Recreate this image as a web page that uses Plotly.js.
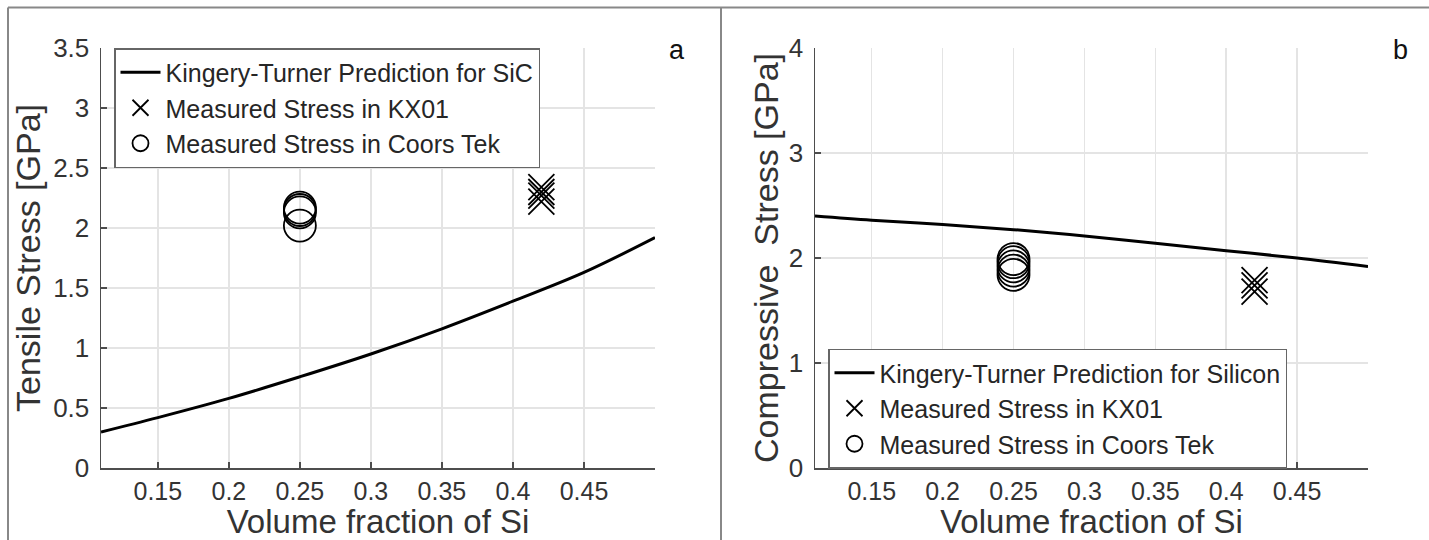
<!DOCTYPE html>
<html>
<head>
<meta charset="utf-8">
<script src="https://cdn.plot.ly/plotly-3.0.1.min.js"></script>
<style>
  html, body { margin: 0; padding: 0; background: #ffffff; }
  #chart { width: 1429px; height: 540px; }
</style>
</head>
<body>
<div id="chart"></div>
<script>
// ---- data ----
const volumeFraction = [0.11, 0.15, 0.2, 0.25, 0.3, 0.35, 0.4, 0.45, 0.5];
const sicPrediction = [0.30, 0.42, 0.58, 0.76, 0.95, 1.16, 1.39, 1.63, 1.92];
const siliconPrediction = [2.40, 2.36, 2.32, 2.27, 2.21, 2.14, 2.07, 2.00, 1.92];

const coorsTekFraction = 0.25;
const kx01Fraction = 0.42;
const tensileCoorsTek = [2.02, 2.13, 2.15, 2.17];
const tensileKX01 = [2.22, 2.27, 2.30, 2.34];
const compressiveCoorsTek = [1.84, 1.88, 1.92, 1.96, 1.99];
const compressiveKX01 = [1.68, 1.74, 1.79];

const xTickVals = [0.15, 0.2, 0.25, 0.3, 0.35, 0.4, 0.45];
const xTickText = ['0.15', '0.2', '0.25', '0.3', '0.35', '0.4', '0.45'];
const tensileTicks = [0, 0.5, 1, 1.5, 2, 2.5, 3, 3.5];
const tensileTickText = ['0', '0.5', '1', '1.5', '2', '2.5', '3', '3.5'];
const compressiveTicks = [0, 1, 2, 3, 4];
const compressiveTickText = ['0', '1', '2', '3', '4'];

const legendA = ['Kingery-Turner Prediction for SiC', 'Measured Stress in KX01', 'Measured Stress in Coors Tek'];
const legendB = ['Kingery-Turner Prediction for Silicon', 'Measured Stress in KX01', 'Measured Stress in Coors Tek'];

// ---- styling ----
const FONT = 'Liberation Sans, Arial, Helvetica, sans-serif';
const INK = '#262626';
const AXIS = '#4d4d4d';
const GRID = '#e4e4e4';
const LABEL = '#333333';

function rep(v, n) { return new Array(n).fill(v); }

const traces = [
  { x: volumeFraction, y: sicPrediction, type: 'scatter', mode: 'lines', name: legendA[0],
    line: { color: '#000', width: 3, shape: 'spline' }, xaxis: 'x', yaxis: 'y', legend: 'legend' },
  { x: rep(kx01Fraction, tensileKX01.length), y: tensileKX01, type: 'scatter', mode: 'markers', name: legendA[1],
    marker: { symbol: 'x-thin-open', size: 26, color: '#000', line: { color: '#000', width: 1.8 } },
    xaxis: 'x', yaxis: 'y', legend: 'legend' },
  { x: rep(coorsTekFraction, tensileCoorsTek.length), y: tensileCoorsTek, type: 'scatter', mode: 'markers', name: legendA[2],
    marker: { symbol: 'circle-open', size: 32, color: '#000', line: { color: '#000', width: 1.8 } },
    xaxis: 'x', yaxis: 'y', legend: 'legend' },

  { x: volumeFraction, y: siliconPrediction, type: 'scatter', mode: 'lines', name: legendB[0],
    line: { color: '#000', width: 3, shape: 'spline' }, xaxis: 'x2', yaxis: 'y2', legend: 'legend2' },
  { x: rep(kx01Fraction, compressiveKX01.length), y: compressiveKX01, type: 'scatter', mode: 'markers', name: legendB[1],
    marker: { symbol: 'x-thin-open', size: 26, color: '#000', line: { color: '#000', width: 1.8 } },
    xaxis: 'x2', yaxis: 'y2', legend: 'legend2' },
  { x: rep(coorsTekFraction, compressiveCoorsTek.length), y: compressiveCoorsTek, type: 'scatter', mode: 'markers', name: legendB[2],
    marker: { symbol: 'circle-open', size: 32, color: '#000', line: { color: '#000', width: 1.8 } },
    xaxis: 'x2', yaxis: 'y2', legend: 'legend2' }
];

const ML = 101, MR = 61, MT = 48, MB = 72;
const W = 1429, H = 540;
const PW = W - ML - MR, PH = H - MT - MB;
function px2paperX(p) { return (p - ML) / PW; }
function px2paperY(p) { return (H - MB - p) / PH; }

const baseX = {
  range: [0.11, 0.5], tickvals: xTickVals, ticktext: xTickText,
  showgrid: true, gridcolor: GRID, gridwidth: 1.5,
  showline: true, linecolor: AXIS, linewidth: 1.5,
  ticks: 'inside', ticklen: 6, tickcolor: AXIS, tickwidth: 1.5,
  tickfont: { family: FONT, size: 25, color: LABEL },
  zeroline: false, fixedrange: true,
  title: { text: 'Volume fraction of Si', font: { family: FONT, size: 33, color: LABEL }, standoff: 15 }
};
const baseY = {
  showgrid: true, gridcolor: GRID, gridwidth: 1.5,
  showline: true, linecolor: AXIS, linewidth: 1.5,
  ticks: 'inside', ticklen: 6, tickcolor: AXIS, tickwidth: 1.5,
  tickfont: { family: FONT, size: 26, color: LABEL },
  ticklabelstandoff: 5,
  zeroline: false, fixedrange: true
};

const legendStyle = {
  bgcolor: '#fff', bordercolor: '#666', borderwidth: 1.5,
  font: { family: FONT, size: 25, color: INK }, itemwidth: 40, tracegroupgap: 0,
  itemsizing: 'trace', xanchor: 'left', yanchor: 'middle'
};

const layout = {
  width: W, height: H,
  margin: { l: ML, r: MR, t: MT, b: MB },
  paper_bgcolor: '#fff', plot_bgcolor: '#fff',
  font: { family: FONT, color: INK },
  showlegend: true,
  xaxis: Object.assign({}, baseX, { domain: [0, px2paperX(655)], anchor: 'y' }),
  yaxis: Object.assign({}, baseY, { domain: [0, 1], anchor: 'x', range: [0, 3.5],
    tickvals: tensileTicks, ticktext: tensileTickText,
    title: { text: 'Tensile Stress [GPa]', font: { family: FONT, size: 34, color: LABEL }, standoff: 2 } }),
  xaxis2: Object.assign({}, baseX, { domain: [px2paperX(815), 1], anchor: 'y2' }),
  yaxis2: Object.assign({}, baseY, { domain: [0, 1], anchor: 'x2', range: [0, 4],
    tickvals: compressiveTicks, ticktext: compressiveTickText,
    title: { text: 'Compressive  Stress [GPa]', font: { family: FONT, size: 34, color: LABEL }, standoff: 0 } }),
  legend: Object.assign({}, legendStyle, { x: px2paperX(114), y: px2paperY(108) }),
  legend2: Object.assign({}, legendStyle, { x: px2paperX(828), y: px2paperY(408.5) }),
  annotations: [
    { text: 'a', xref: 'paper', yref: 'paper', x: px2paperX(677), y: px2paperY(50), showarrow: false,
      font: { family: FONT, size: 27, color: '#111' }, xanchor: 'center', yanchor: 'middle' },
    { text: 'b', xref: 'paper', yref: 'paper', x: px2paperX(1400), y: px2paperY(50), showarrow: false,
      font: { family: FONT, size: 27, color: '#111' }, xanchor: 'center', yanchor: 'middle' }
  ],
  shapes: [
    { type: 'line', xref: 'paper', yref: 'paper', x0: px2paperX(8), x1: px2paperX(1429), y0: px2paperY(7.5), y1: px2paperY(7.5),
      line: { color: '#888', width: 2 } },
    { type: 'line', xref: 'paper', yref: 'paper', x0: px2paperX(8), x1: px2paperX(8), y0: px2paperY(7.5), y1: px2paperY(540),
      line: { color: '#888', width: 2 } },
    { type: 'line', xref: 'paper', yref: 'paper', x0: px2paperX(721), x1: px2paperX(721), y0: px2paperY(7.5), y1: px2paperY(540),
      line: { color: '#888', width: 2 } }
  ]
};

Plotly.newPlot('chart', traces, layout, { displayModeBar: false, staticPlot: true });
</script>
</body>
</html>
